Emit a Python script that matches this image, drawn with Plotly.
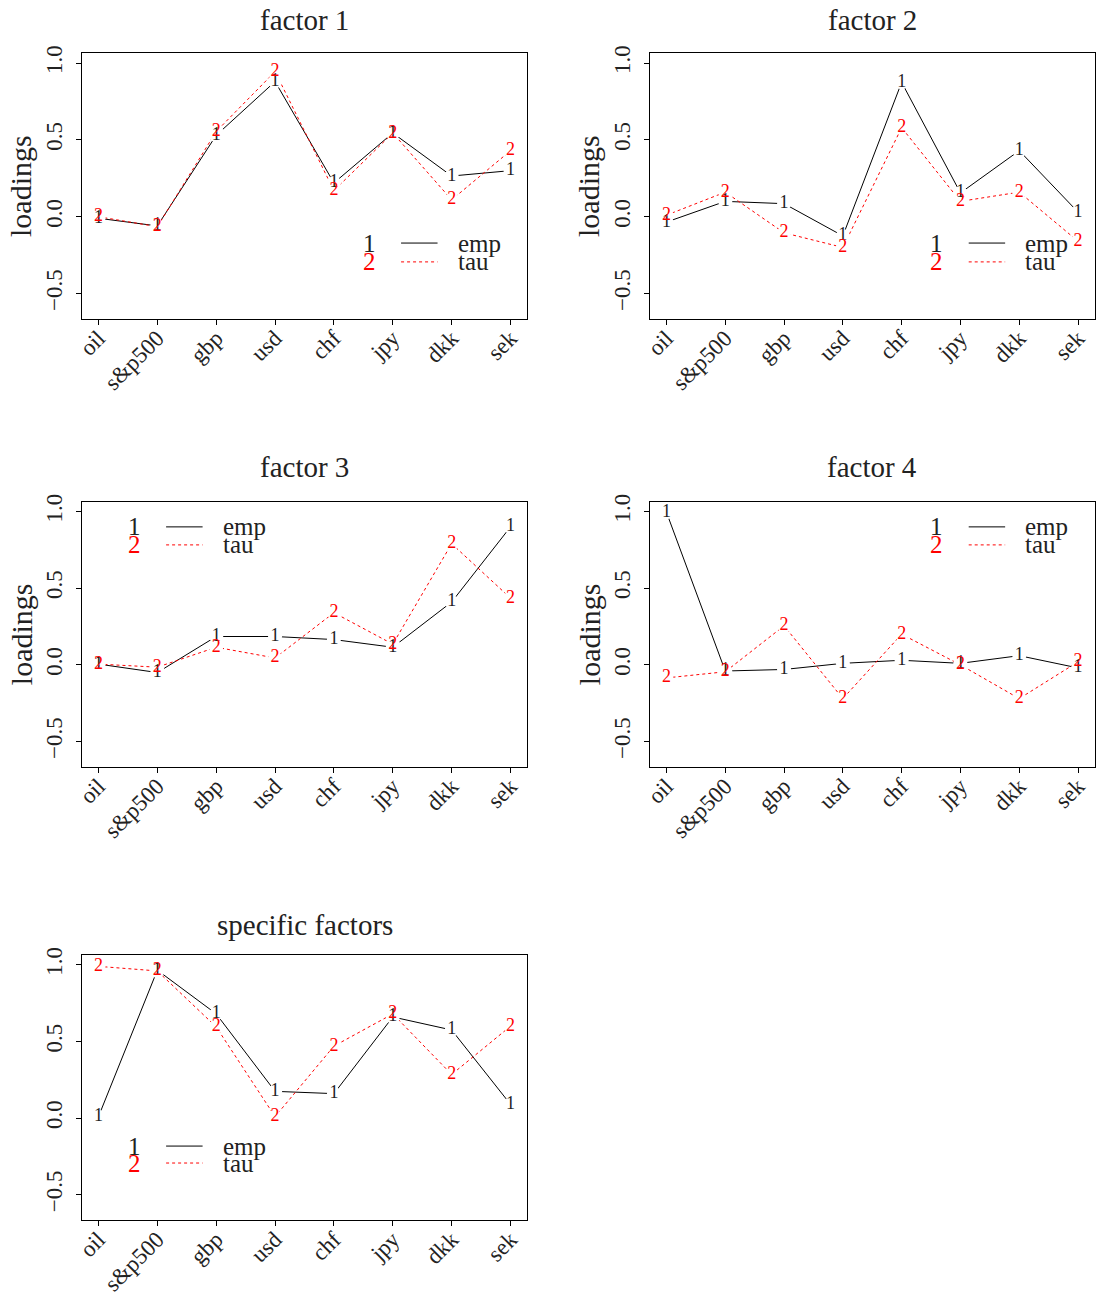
import plotly.graph_objects as go

# ---------------- data ----------------
categories = ["oil", "s&p500", "gbp", "usd", "chf", "jpy", "dkk", "sek"]

f1_emp = [-0.01, -0.06, 0.53, 0.88, 0.22, 0.545, 0.265, 0.30]
f1_tau = [0.00, -0.065, 0.555, 0.945, 0.17, 0.545, 0.11, 0.43]

f2_emp = [-0.035, 0.10, 0.085, -0.125, 0.875, 0.155, 0.43, 0.03]
f2_tau = [0.01, 0.16, -0.105, -0.20, 0.58, 0.10, 0.16, -0.16]

f3_emp = [0.005, -0.05, 0.185, 0.185, 0.165, 0.115, 0.41, 0.90]
f3_tau = [0.005, -0.015, 0.115, 0.045, 0.34, 0.135, 0.79, 0.435]

f4_emp = [0.995, -0.04, -0.03, 0.01, 0.03, 0.01, 0.06, -0.02]
f4_tau = [-0.085, -0.045, 0.255, -0.22, 0.20, 0.0, -0.22, 0.02]

sp_emp = [0.01, 0.965, 0.68, 0.175, 0.16, 0.66, 0.575, 0.09]
sp_tau = [0.99, 0.96, 0.595, 0.01, 0.47, 0.68, 0.285, 0.60]

titles = ["factor 1", "factor 2", "factor 3", "factor 4", "specific factors"]
y_tickvals = [-0.5, 0.0, 0.5, 1.0]
y_ticktext = ["\u22120.5", "0.0", "0.5", "1.0"]
series_names = ["emp", "tau"]
series_symbols = ["1", "2"]

# ---------------- layout / style ----------------
W, H = 1096, 1305
FONT = "Liberation Serif"
TXT = "#222222"
col_x = [(82, 527), (650, 1094.5)]          # window pixels
row_y = [(53.3, 318.7), (501.7, 766.7), (955, 1220)]
title_off = [33, 35, 30]
legend_pos = ["br", "br", "tl", "tr", "bl"]
show_ylab = [True, True, True, True, False]
colors = ["black", "red"]
dashes = ["solid", "dot"]

panels = [(f1_emp, f1_tau), (f2_emp, f2_tau), (f3_emp, f3_tau),
          (f4_emp, f4_tau), (sp_emp, sp_tau)]


def px_x(v):
    return v / W


def px_y(v):
    return 1 - v / H


fig = go.Figure()
annotations = []
shapes = []
layout_axes = {}

for i, (emp, tau) in enumerate(panels):
    k = "" if i == 0 else str(i + 1)
    xa, ya = "x" + k, "y" + k
    col, row = i % 2, i // 2
    x0, x1 = col_x[col]
    yt, yb = row_y[row]
    layout_axes["xaxis" + k] = dict(
        domain=[px_x(x0), px_x(x1)], anchor=ya, type="category",
        range=[-0.28, len(categories) - 1 + 0.28],
        tickmode="array", tickvals=categories, ticktext=categories,
        showline=True, mirror=True, linecolor="black", linewidth=1,
        ticks="outside", ticklen=5, tickcolor="black", tickwidth=1,
        showgrid=False, zeroline=False, tickangle=-45,
        ticklabelstandoff=-9,
        tickfont=dict(family=FONT, size=23, color=TXT), automargin=False)
    layout_axes["yaxis" + k] = dict(
        domain=[px_y(yb), px_y(yt)], anchor=xa,
        range=[-0.664, 1.064], tickmode="array",
        tickvals=y_tickvals, ticktext=y_ticktext,
        showline=True, mirror=True, linecolor="black", linewidth=1,
        ticks="outside", ticklen=5, tickcolor="black", tickwidth=1,
        showgrid=False, zeroline=False, tickangle=-90,
        ticklabelstandoff=5,
        tickfont=dict(family=FONT, size=23, color=TXT), automargin=False)

    data = [emp, tau]
    # lines
    for s in range(2):
        fig.add_trace(go.Scatter(
            x=categories, y=data[s], mode="lines", xaxis=xa, yaxis=ya,
            line=dict(color=colors[s], width=1, dash=dashes[s]),
            showlegend=False, hoverinfo="skip"))
    # gaps around plotting characters
    for s in range(2):
        fig.add_trace(go.Scatter(
            x=categories, y=data[s], mode="markers", xaxis=xa, yaxis=ya,
            marker=dict(color="white", size=14, line=dict(width=0)),
            showlegend=False, hoverinfo="skip"))
    # plotting characters
    for s in range(2):
        fig.add_trace(go.Scatter(
            x=categories, y=data[s], mode="text", xaxis=xa, yaxis=ya,
            text=[series_symbols[s]] * len(categories),
            textposition="middle center",
            textfont=dict(family=FONT, size=18,
                          color=TXT if s == 0 else "red"),
            name=series_names[s], showlegend=False, hoverinfo="skip"))

    # title
    annotations.append(dict(
        text=titles[i], xref=xa + " domain", yref=ya + " domain",
        x=0.5, y=1 + title_off[row] / (yb - yt), xanchor="center",
        yanchor="middle", showarrow=False,
        font=dict(family=FONT, size=29, color=TXT)))
    # y label
    if show_ylab[i]:
        annotations.append(dict(
            text="loadings", xref="paper", yref=ya + " domain",
            x=px_x(x0 - 61), y=0.5, xanchor="center", yanchor="middle",
            textangle=-90, showarrow=False,
            font=dict(family=FONT, size=30, color=TXT)))

    # legend
    pos = legend_pos[i]
    if pos == "br":
        lx, ly = 0.645, [0.285, 0.214]
    elif pos == "tr":
        lx, ly = 0.645, [0.905, 0.837]
    elif pos == "tl":
        lx, ly = 0.117, [0.905, 0.837]
    else:
        lx, ly = 0.117, [0.279, 0.215]
    for s in range(2):
        annotations.append(dict(
            text=series_symbols[s], xref=xa + " domain", yref=ya + " domain",
            x=lx, y=ly[s], xanchor="center", yanchor="middle", showarrow=False,
            font=dict(family=FONT, size=25, color=TXT if s == 0 else "red")))
        shapes.append(dict(
            type="line", xref=xa + " domain", yref=ya + " domain",
            x0=lx + 0.072, x1=lx + 0.154, y0=ly[s], y1=ly[s],
            line=dict(color=colors[s], width=1, dash=dashes[s])))
        annotations.append(dict(
            text=series_names[s], xref=xa + " domain", yref=ya + " domain",
            x=lx + 0.195, y=ly[s], xanchor="left", yanchor="middle",
            showarrow=False, font=dict(family=FONT, size=25, color=TXT)))

fig.update_layout(
    width=W, height=H, autosize=False,
    margin=dict(l=0, r=0, t=0, b=0),
    paper_bgcolor="white", plot_bgcolor="white",
    annotations=annotations, shapes=shapes, showlegend=False,
    **layout_axes)

fig.write_html(
    "out.html",
    config={"displayModeBar": False},
    post_script="document.body.style.margin='0';"
                "document.body.style.overflow='hidden';")
